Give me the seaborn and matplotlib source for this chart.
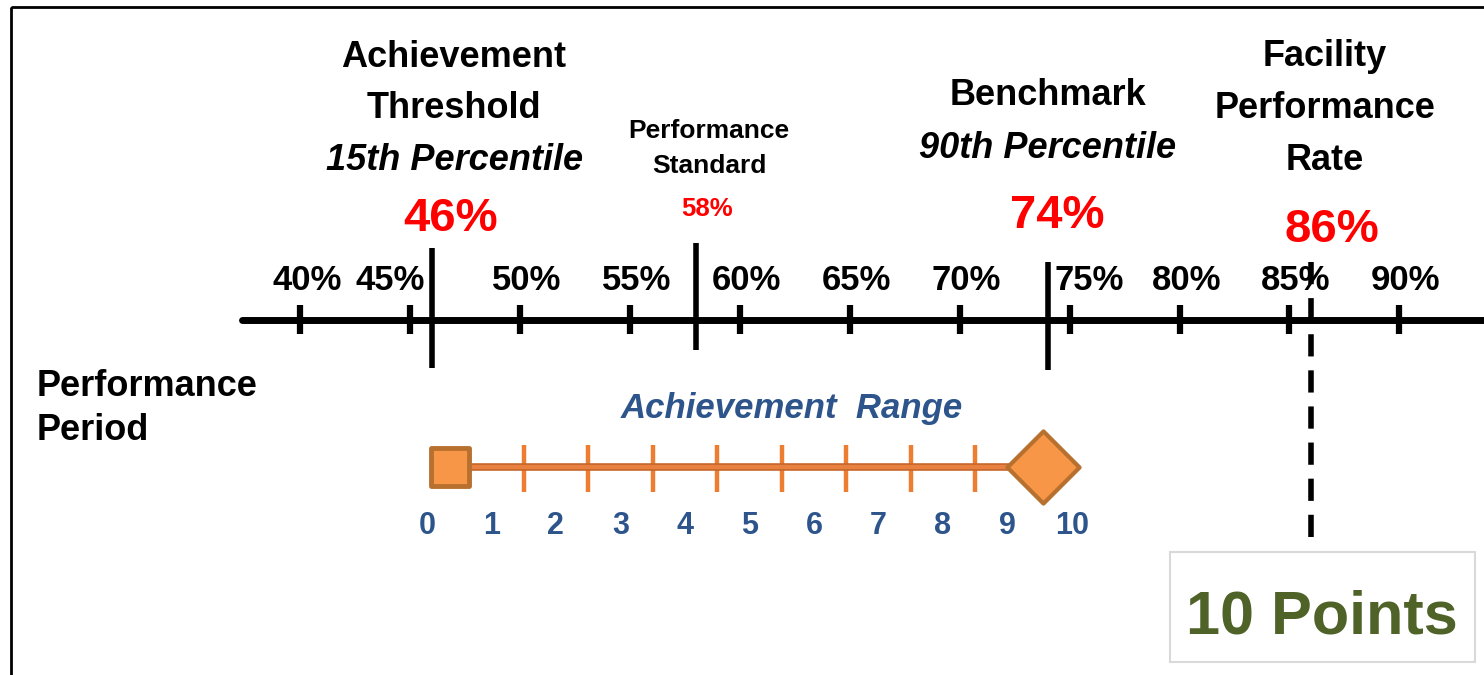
import numpy as np
import pandas as pd
import seaborn as sns
import matplotlib.pyplot as plt
import matplotlib.patheffects as pe
from matplotlib import font_manager as fm
from matplotlib.patches import Rectangle

# Percent scale (performance period)
tick_vals = [40, 45, 50, 55, 60, 65, 70, 75, 80, 85, 90]
tick_labels = ['40%', '45%', '50%', '55%', '60%', '65%', '70%', '75%', '80%', '85%', '90%']
threshold = 46      # achievement threshold, 15th percentile
standard = 58       # performance standard
benchmark = 74      # benchmark, 90th percentile
facility_rate = 86  # facility performance rate

# Achievement range (points scale)
points = list(range(11))
point_labels = [str(p) for p in points]
range_ticks = [1.5, 2.5, 3.5, 4.5, 5.5, 6.5, 7.5, 8.5]
range_start = 0.35
range_end = 9.55
score_text = '10 Points'

# label nudges so tick labels clear the marker lines
label_dx = {45: -0.9, 75: 0.9}

RED = '#FF0000'
BLUE = '#2D558C'
GREEN = '#4F6228'
ORANGE = '#F79646'
ORANGE_EDGE = '#B8702F'
WIDE = ['Liberation Sans', 'DejaVu Sans']

# narrow font if there is one, otherwise shrink the regular one a bit
installed = {f.name for f in fm.fontManager.ttflist}
if 'Liberation Sans Narrow' in installed:
    NARROW = ['Liberation Sans Narrow', 'Liberation Sans', 'DejaVu Sans']
    k = 1.2
else:
    NARROW = WIDE
    k = 1.0

sns.set_theme(style='white')
plt.rcParams['font.family'] = NARROW
plt.rcParams['text.color'] = 'black'

fig = plt.figure(figsize=(14.84, 6.75), dpi=100)

# percent axis: x in percent, y in pixel rows (0 at top)
ax = fig.add_axes([0, 0, 1, 1])
ax.set_xlim(26.34, 93.85)
ax.set_ylim(675, 0)
ax.axis('off')

# points axis for the achievement range
ax2 = fig.add_axes([0, 0, 1, 1])
ax2.set_xlim(-6.62, 16.39)
ax2.set_ylim(675, 0)
ax2.axis('off')
ax2.patch.set_alpha(0)

# outer frame
ax.add_patch(Rectangle((11 / 1484, 7), 2, 700, transform=ax.get_yaxis_transform(),
                       fill=False, edgecolor='black', lw=2, clip_on=False))

# main percent line and ticks
sns.lineplot(x=[37.35, 93.85], y=[320, 320], ax=ax, color='black', lw=5)
ax.vlines(tick_vals, 305, 334, color='black', lw=4.5)
for v, lab in zip(tick_vals, tick_labels):
    ax.text(v + label_dx.get(v, 0.3), 290, lab, ha='center', va='baseline',
            fontsize=25 * k, fontweight='bold')

# marker lines
ax.vlines([threshold], 248, 368, color='black', lw=4)
ax.vlines([standard], 243, 350, color='black', lw=4)
ax.vlines([benchmark], 262, 370, color='black', lw=4)
ax.vlines([facility_rate], 262, 545, color='black', lw=4, linestyles=[(0, (4, 2.5))])


def heading(x, rows, size):
    for text, y, style in rows:
        ax.text(x, y, text, ha='center', va='baseline', fontweight='bold',
                fontstyle=style, fontsize=size)


heading(threshold + 1.0, [('Achievement', 67, 'normal'), ('Threshold', 118, 'normal'),
                          ('15th Percentile', 170, 'italic')], 26 * k)
ax.text(threshold + 0.85, 231, f'{threshold}%', ha='center', va='baseline',
        fontsize=34 * k, fontweight='bold', color=RED)

heading(standard + 0.6, [('Performance', 138, 'normal'), ('Standard', 173, 'normal')], 19 * k)
ax.text(standard + 0.5, 216, f'{standard}%', ha='center', va='baseline',
        fontsize=18.5 * k, fontweight='bold', color=RED)

heading(benchmark, [('Benchmark', 105, 'normal'), ('90th Percentile', 158, 'italic')], 26 * k)
ax.text(benchmark + 0.45, 228, f'{benchmark}%', ha='center', va='baseline',
        fontsize=34 * k, fontweight='bold', color=RED)

heading(facility_rate + 0.6, [('Facility', 66, 'normal'), ('Performance', 118, 'normal'),
                              ('Rate', 170, 'normal')], 26 * k)
ax.text(facility_rate + 0.95, 242, f'{facility_rate}%', ha='center', va='baseline',
        fontsize=34 * k, fontweight='bold', color=RED)

# left label
for text, y in [('Performance', 396), ('Period', 440)]:
    ax.text(37 / 1484, y, text, transform=ax.get_yaxis_transform(), ha='left',
            va='baseline', fontsize=26, fontweight='bold', family=WIDE)

# achievement range
ax2.text(5.66, 418, 'Achievement  Range', ha='center', va='baseline', fontsize=25,
         fontweight='bold', fontstyle='italic', color=BLUE, family=WIDE)
ax2.vlines(range_ticks, 445, 492, color='#ED7D31', lw=3.2)
sns.lineplot(x=[range_start, range_end], y=[467, 467], ax=ax2, color='#E8803F', lw=3,
             path_effects=[pe.Stroke(linewidth=5.5, foreground='#C8682C'), pe.Normal()])
sns.scatterplot(x=[range_start], y=[467], ax=ax2, marker='s', s=760, color=ORANGE,
                edgecolor=ORANGE_EDGE, linewidth=3.5, joinstyle='round', zorder=5)
sns.scatterplot(x=[range_end], y=[467], ax=ax2, marker='D', s=1350, color=ORANGE,
                edgecolor=ORANGE_EDGE, linewidth=3, joinstyle='round', zorder=5)
for p, lab in zip(points, point_labels):
    ax2.text(p, 534, lab, ha='center', va='baseline', fontsize=22, fontweight='bold', color=BLUE)

# score box
ax.add_patch(Rectangle((1170 / 1484, 552), 305 / 1484, 110, transform=ax.get_yaxis_transform(),
                       facecolor='white', edgecolor='#D9D9D9', lw=1.5, zorder=4))
ax.text(1322 / 1484, 634, score_text, transform=ax.get_yaxis_transform(), ha='center',
        va='baseline', fontsize=44, fontweight='bold', color=GREEN, family=WIDE, zorder=5)

fig.savefig('out.png', dpi=100)
